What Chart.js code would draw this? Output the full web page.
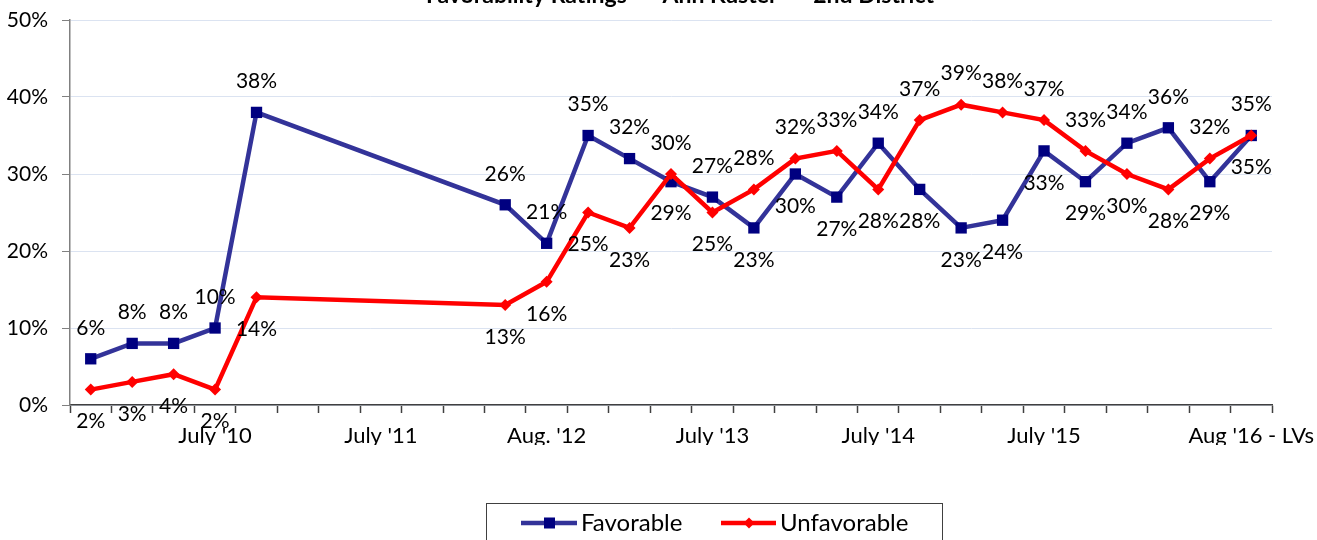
<!DOCTYPE html>
<html>
<head>
<meta charset="utf-8">
<title>Favorability Ratings</title>
<script src="https://cdn.jsdelivr.net/npm/chart.js@4/dist/chart.umd.min.js"></script>
<style>
  body { margin: 0; background: #fff; }
  #wrap { width: 1317px; height: 540px; }
</style>
</head>
<body>
<div id="wrap"><canvas id="myChart" width="1317" height="540"></canvas></div>
<script>
"use strict";

// survey waves (blank slots are waves with no labelled date / no poll)
var categories = ['', '', '', "July '10", '', '', '', "July '11", '', '', '', "Aug. '12", '', '', '', "July '13",
	'', '', '', "July '14", '', '', '', "July '15", '', '', '', '', "Aug '16 - LVs"];

var favorable = [6, 8, 8, 10, 38, null, null, null, null, null, 26, 21, 35, 32, 29, 27,
	23, 30, 27, 34, 28, 23, 24, 33, 29, 34, 36, 29, 35];

var unfavorable = [2, 3, 4, 2, 14, null, null, null, null, null, 13, 16, 25, 23, 30, 25,
	28, 32, 33, 28, 37, 39, 38, 37, 33, 30, 28, 32, 35];

var yTicks = [0, 10, 20, 30, 40, 50];

var chartTitle = 'Favorability Ratings  \u2013  Ann Kuster  \u2013  2nd District';

var FONT = 'Lato, "Open Sans", sans-serif';
var FAV_LINE = '#333399';
var FAV_MARK = '#000080';
var UNFAV = '#ff0000';

/*******************
   DATA LABELS
*******************/

var pointLabels = {
	id: 'pointLabels',
	afterDatasetsDraw: function(chart) {
		var ctx = chart.ctx;
		ctx.save();
		ctx.font = '21px ' + FONT;
		ctx.fillStyle = '#000';
		ctx.textAlign = 'center';
		ctx.textBaseline = 'middle';
		chart.data.datasets.forEach(function(ds, di) {
			var other = chart.data.datasets[1 - di].data;
			var meta = chart.getDatasetMeta(di);
			meta.data.forEach(function(pt, i) {
				var v = ds.data[i];
				if (v === null) return;
				// higher of the two values is labelled above, lower one below
				var above = (v > other[i]) || (v === other[i] && di === 0);
				ctx.fillText(v + '%', pt.x, pt.y + (above ? -31 : 32));
			});
		});
		ctx.restore();
	}
};

/*******************
  TITLE + LEGEND
*******************/

var extras = {
	id: 'extras',
	afterDraw: function(chart) {
		var ctx = chart.ctx;
		ctx.save();

		ctx.font = 'bold 23px ' + FONT;
		ctx.fillStyle = '#000';
		ctx.textAlign = 'center';
		ctx.textBaseline = 'alphabetic';
		ctx.fillText(chartTitle, 680, 3);

		ctx.strokeStyle = '#404040';
		ctx.lineWidth = 1;
		ctx.strokeRect(486.5, 503.5, 456, 60);

		var y = 523;
		ctx.lineWidth = 4.5;
		ctx.strokeStyle = FAV_LINE;
		ctx.beginPath(); ctx.moveTo(521, y); ctx.lineTo(577, y); ctx.stroke();
		ctx.fillStyle = FAV_MARK;
		ctx.fillRect(544, y - 5.5, 11, 11);

		ctx.strokeStyle = UNFAV;
		ctx.beginPath(); ctx.moveTo(721, y); ctx.lineTo(776, y); ctx.stroke();
		ctx.fillStyle = UNFAV;
		ctx.beginPath();
		ctx.moveTo(749, y - 5.5); ctx.lineTo(754.5, y); ctx.lineTo(749, y + 5.5); ctx.lineTo(743.5, y);
		ctx.closePath(); ctx.fill();

		ctx.font = '24px ' + FONT;
		ctx.fillStyle = '#000';
		ctx.textAlign = 'left';
		ctx.textBaseline = 'middle';
		ctx.fillText('Favorable', 581, y);
		ctx.fillText('Unfavorable', 780, y);
		ctx.restore();
	}
};

/*******************
      CHART
*******************/

var ctx = document.getElementById('myChart');

var lineChart = new Chart(ctx, {
	type: 'line',
	data: {
		labels: categories,
		datasets: [{
			label: 'Favorable',
			data: favorable,
			borderColor: FAV_LINE,
			borderWidth: 4.5,
			backgroundColor: FAV_MARK,
			pointStyle: 'rect',
			pointRadius: 8,
			pointBackgroundColor: FAV_MARK,
			pointBorderColor: FAV_MARK,
			pointBorderWidth: 0,
			spanGaps: true,
			tension: 0,
			order: 1
		}, {
			label: 'Unfavorable',
			data: unfavorable,
			borderColor: UNFAV,
			borderWidth: 4.5,
			backgroundColor: UNFAV,
			pointStyle: 'rectRot',
			pointRadius: 6,
			pointBackgroundColor: UNFAV,
			pointBorderColor: UNFAV,
			pointBorderWidth: 0,
			spanGaps: true,
			tension: 0,
			order: 0
		}]
	},
	options: {
		responsive: false,
		animation: false,
		layout: {
			padding: { top: 20, right: 45, bottom: 95, left: 0 }
		},
		plugins: {
			legend: { display: false },
			title: { display: false },
			tooltip: { enabled: false }
		},
		scales: {
			x: {
				offset: true,
				afterFit: function(scale) {
					scale.height = 40;
					scale.paddingLeft = 0;
					scale.paddingRight = 0;
				},
				grid: {
					offset: true,
					drawOnChartArea: false,
					tickLength: 8,
					tickColor: '#404040',
					tickWidth: 1.5
				},
				border: { color: '#404040', width: 1.5 },
				ticks: {
					autoSkip: false,
					maxRotation: 0,
					padding: 10,
					color: '#000',
					font: { family: FONT, size: 22 }
				}
			},
			y: {
				min: 0,
				max: 50,
				afterFit: function(scale) {
					scale.width = 70;
					scale.paddingTop = 0;
					scale.paddingBottom = 0;
				},
				afterBuildTicks: function(scale) {
					scale.ticks = yTicks.map(function(v) { return { value: v }; });
				},
				grid: {
					color: '#dbe3f1',
					lineWidth: 1,
					tickLength: 8,
					tickColor: '#808080'
				},
				border: { color: '#808080', width: 1.5 },
				ticks: {
					padding: 14,
					color: '#000',
					font: { family: FONT, size: 21 },
					callback: function(v) { return v + '%'; }
				}
			}
		}
	},
	plugins: [pointLabels, extras]
});
</script>
</body>
</html>
